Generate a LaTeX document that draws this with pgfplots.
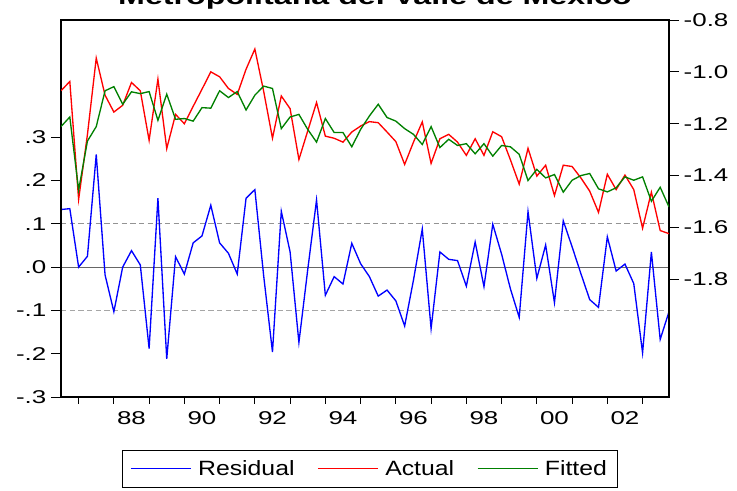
\documentclass[border=0pt]{standalone}
\usepackage{fontspec}
\setmainfont{Liberation Sans}
\newfontfamily\tickfont[FakeStretch=1.4]{Liberation Sans}
\newfontfamily\legfont[FakeStretch=1.2]{Liberation Sans}
\newfontfamily\titlefont[FakeStretch=1.4]{Liberation Sans}
\usepackage{pgfplots}
\usepackage{pgfplotstable}
\pgfplotsset{compat=1.18}
\definecolor{egreen}{RGB}{0,128,0}
\pgfplotstableread{
t resid actual fitted
1986.50 0.133 -1.073 -1.211
1986.75 0.135 -1.037 -1.174
1987.00 0.000 -1.492 -1.456
1987.25 0.025 -1.242 -1.267
1987.50 0.260 -0.947 -1.211
1987.75 -0.018 -1.090 -1.073
1988.00 -0.103 -1.155 -1.057
1988.25 0.000 -1.129 -1.125
1988.50 0.038 -1.041 -1.077
1988.75 0.005 -1.073 -1.084
1989.00 -0.188 -1.264 -1.076
1989.25 0.159 -1.028 -1.187
1989.50 -0.212 -1.296 -1.086
1989.75 0.024 -1.164 -1.183
1990.00 -0.016 -1.200 -1.180
1990.25 0.056 -1.133 -1.190
1990.50 0.072 -1.067 -1.138
1990.75 0.143 -1.000 -1.140
1991.00 0.056 -1.019 -1.073
1991.25 0.032 -1.064 -1.099
1991.50 -0.016 -1.087 -1.076
1991.75 0.159 -0.990 -1.147
1992.00 0.179 -0.912 -1.090
1992.25 -0.020 -1.075 -1.055
1992.50 -0.196 -1.256 -1.064
1992.75 0.129 -1.093 -1.219
1993.00 0.035 -1.142 -1.174
1993.25 -0.174 -1.338 -1.164
1993.50 -0.006 -1.228 -1.222
1993.75 0.155 -1.118 -1.271
1994.00 -0.065 -1.248 -1.180
1994.25 -0.022 -1.256 -1.234
1994.50 -0.039 -1.271 -1.234
1994.75 0.055 -1.232 -1.289
1995.00 0.008 -1.209 -1.222
1995.25 -0.022 -1.192 -1.170
1995.50 -0.067 -1.196 -1.125
1995.75 -0.053 -1.232 -1.176
1996.00 -0.078 -1.269 -1.190
1996.25 -0.136 -1.357 -1.219
1996.50 -0.030 -1.271 -1.241
1996.75 0.088 -1.193 -1.280
1997.00 -0.142 -1.353 -1.211
1997.25 0.035 -1.258 -1.292
1997.50 0.018 -1.241 -1.260
1997.75 0.015 -1.271 -1.284
1998.00 -0.044 -1.322 -1.277
1998.25 0.058 -1.258 -1.316
1998.50 -0.045 -1.322 -1.277
1998.75 0.099 -1.231 -1.325
1999.00 0.030 -1.250 -1.284
1999.25 -0.050 -1.339 -1.289
1999.50 -0.116 -1.433 -1.318
1999.75 0.128 -1.295 -1.419
2000.00 -0.026 -1.402 -1.376
2000.25 0.051 -1.360 -1.409
2000.50 -0.082 -1.477 -1.396
2000.75 0.107 -1.360 -1.464
2001.00 0.047 -1.365 -1.418
2001.25 -0.015 -1.409 -1.400
2001.50 -0.075 -1.460 -1.392
2001.75 -0.093 -1.542 -1.451
2002.00 0.070 -1.395 -1.463
2002.25 -0.009 -1.454 -1.447
2002.50 0.007 -1.398 -1.405
2002.75 -0.038 -1.454 -1.418
2003.00 -0.198 -1.603 -1.405
2003.25 0.035 -1.464 -1.499
2003.50 -0.167 -1.612 -1.445
2003.75 -0.103 -1.624 -1.521
}\datatable
\newcommand{\legline}[1]{\node[inner sep=0pt, anchor=west] at (0pt,0pt) {\textcolor{#1}{\rule[-0.375pt]{45pt}{0.75pt}}};}
\begin{document}
\begin{tikzpicture}
\begin{axis}[
  scale only axis, width=456pt, height=282.75pt,
  xmin=1986.5, xmax=2003.75,
  ymin=-0.3, ymax=0.5707,
  axis line style={line width=1.2pt, black},
  tick align=outside,
  xtick pos=bottom, ytick pos=left,
  xtick={1988.5,1990.5,1992.5,1994.5,1996.5,1998.5,2000.5,2002.5},
  xticklabels={88,90,92,94,96,98,00,02},
  minor xtick={1987,1988,1989,1990,1991,1992,1993,1994,1995,1996,1997,1998,1999,2000,2001,2002,2003},
  ytick={-0.3,-0.2,-0.1,0,0.1,0.2,0.3},
  yticklabels={-.3,-.2,-.1,.0,.1,.2,.3},
  major tick length=7.5pt, minor tick length=5pt,
  major x tick style={draw=none},
  tick style={line width=0.75pt, black},
  ticklabel style={font=\tickfont\fontsize{13.9}{16}\selectfont},
  clip=true,
]
\addplot[gray!85, line width=0.75pt, dash pattern=on 4pt off 2.5pt] coordinates {(1986.5,0.1) (2003.75,0.1)};
\addplot[gray!70, line width=0.75pt, dash pattern=on 4pt off 2.5pt] coordinates {(1986.5,-0.1) (2003.75,-0.1)};
\addplot[black!60, line width=0.75pt] coordinates {(1986.5,0) (2003.75,0)};
\addplot[blue, line width=1pt] table[x=t, y=resid] {\datatable};
\end{axis}
\begin{axis}[
  scale only axis, width=456pt, height=282.75pt,
  xmin=1986.5, xmax=2003.75,
  ymin=-2.254, ymax=-0.8,
  hide x axis,
  axis line style={line width=1.2pt, black},
  tick align=outside,
  ytick pos=right,
  ytick={-1.8,-1.6,-1.4,-1.2,-1.0,-0.8},
  yticklabels={-1.8,-1.6,-1.4,-1.2,-1.0,-0.8},
  major tick length=7.5pt,
  tick style={line width=0.75pt, black},
  ticklabel style={font=\tickfont\fontsize{13.9}{16}\selectfont},
  legend columns=3,
  legend style={at={(0.5085,-0.191)}, anchor=center, draw=black, line width=0.75pt,
    inner xsep=6pt, inner ysep=5.5pt,
    font=\legfont\fontsize{15.5}{18}\selectfont,
    /tikz/every odd column/.append style={column sep=3.5pt},
    /tikz/every even column/.append style={column sep=15.5pt}},
]
\addlegendimage{legend image code/.code={\legline{blue}}}
\addlegendentry{Residual}
\addlegendimage{legend image code/.code={\legline{red}}}
\addlegendentry{Actual}
\addlegendimage{legend image code/.code={\legline{egreen}}}
\addlegendentry{Fitted}
\addplot[red, line width=1pt, forget plot] table[x=t, y=actual] {\datatable};
\addplot[egreen, line width=1pt, forget plot] table[x=t, y=fitted] {\datatable};
\end{axis}
\node[anchor=base, font=\titlefont\bfseries\fontsize{17.25}{20}\selectfont] at (235.5pt,294.5pt) {Metropolitana del Valle de Mexico};
\pgfresetboundingbox
\useasboundingbox (-45.75pt,-69.75pt) rectangle (507pt,297.75pt);
\end{tikzpicture}
\end{document}
